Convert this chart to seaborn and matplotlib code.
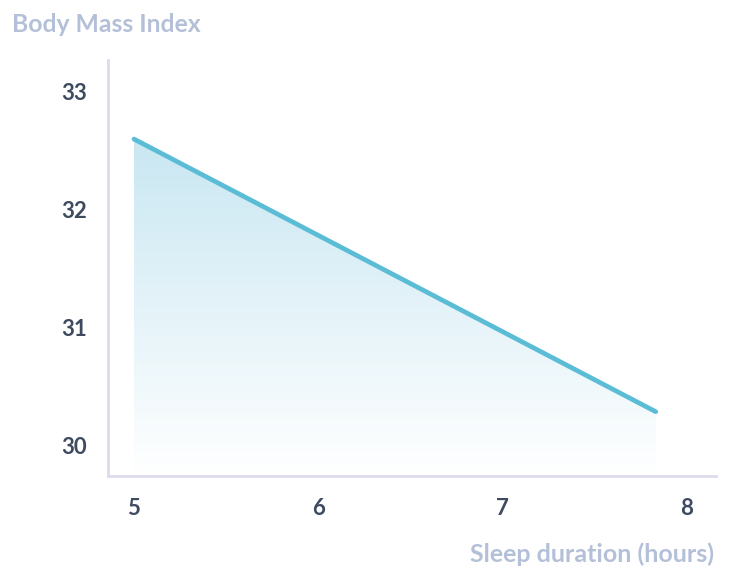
import numpy as np
import pandas as pd
import matplotlib.pyplot as plt
import seaborn as sns
from matplotlib.colors import LinearSegmentedColormap

# Data
sleep_hours = [5.0, 7.83]
bmi = [32.6, 30.29]
x_ticks = [5, 6, 7, 8]
y_ticks = [30, 31, 32, 33]

df = pd.DataFrame({"sleep": sleep_hours, "bmi": bmi})

sns.set_style("white")
plt.rcParams['font.family'] = ['Lato', 'DejaVu Sans']

fig = plt.figure(figsize=(7.31, 5.66), dpi=100)
ax = fig.add_axes([108 / 731, 90 / 566, 608 / 731, 416 / 566])

line_color = "#5bbcd6"
sns.lineplot(data=df, x="sleep", y="bmi", ax=ax, color=line_color,
             linewidth=3.4, solid_capstyle="round", zorder=3)

xmin, xmax = 4.859, 8.157
ymin, ymax = 29.745, 33.27

# Gradient fill under the line
fill = ax.fill_between(df["sleep"], df["bmi"], ymin, color="none")
cmap = LinearSegmentedColormap.from_list("fade", ["#ffffff", "#c9e7f2"])
grad = np.linspace(0, 1, 256).reshape(-1, 1)
img = ax.imshow(grad, cmap=cmap, aspect="auto", origin="lower",
                extent=[df["sleep"].min(), df["sleep"].max(), ymin, max(bmi)],
                zorder=1)
img.set_clip_path(fill.get_paths()[0], transform=ax.transData)
ax.set_xlim(xmin, xmax)
ax.set_ylim(ymin, ymax)

ax.set_xticks(x_ticks)
ax.set_yticks(y_ticks)
ax.set_xticklabels([str(t) for t in x_ticks])
ax.set_yticklabels([str(t) for t in y_ticks])
ax.tick_params(axis="both", length=0, labelsize=16, labelcolor="#3d4a5f")
ax.tick_params(axis="y", pad=15)
ax.tick_params(axis="x", pad=16)
for lab in ax.get_xticklabels() + ax.get_yticklabels():
    lab.set_fontweight("bold")

sns.despine(ax=ax)
for side in ["left", "bottom"]:
    ax.spines[side].set_color("#dedcec")
    ax.spines[side].set_linewidth(2)
ax.set_xlabel("")
ax.set_ylabel("")

fig.text(12 / 731, 1 - 25 / 566, "Body Mass Index", fontsize=17.8, fontweight="bold",
         color="#b4c0d8", ha="left", va="center")
fig.text(714 / 731, 1 - 554 / 566, "Sleep duration (hours)", fontsize=18,
         fontweight="bold", color="#b4c0d8", ha="right", va="center")

fig.savefig("out.png", dpi=100)
